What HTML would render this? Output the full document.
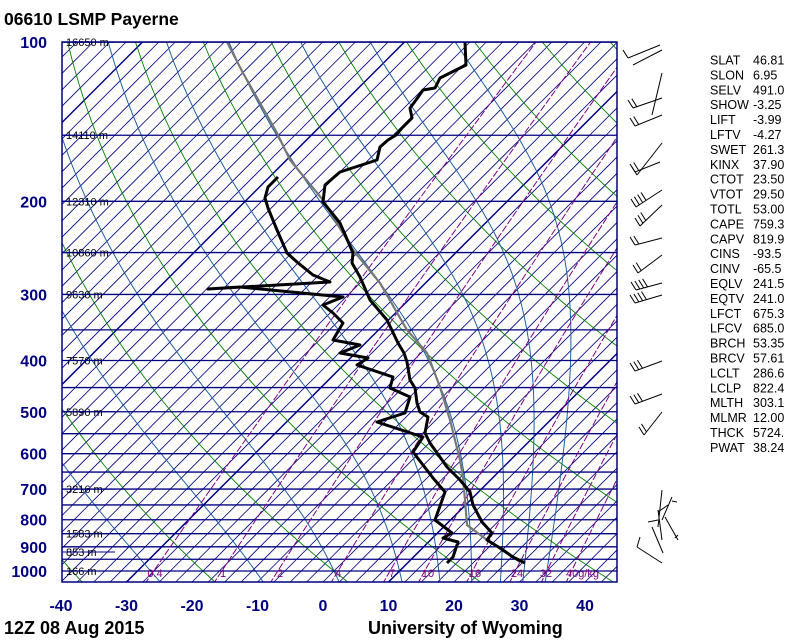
<!DOCTYPE html>
<html><head><meta charset="utf-8"><style>
html,body{margin:0;padding:0;background:#fff;}
svg{display:block;}
</style></head><body>
<svg id="s" width="800" height="640" xmlns="http://www.w3.org/2000/svg" font-family="'Liberation Sans', sans-serif">
<defs><clipPath id="c"><rect x="62" y="42" width="555" height="540"/></clipPath></defs>
<rect width="800" height="640" fill="#fff"/>
<g id="grid" clip-path="url(#c)"></g>
<g id="hl" font-size="11" fill="#000"></g>
<g id="traces" clip-path="url(#c)"></g>
<rect x="62" y="42" width="555" height="540" fill="none" stroke="#000080" stroke-width="1.5"/>
<g id="lab"></g>
<text x="4" y="25" font-size="17.5" font-weight="bold">06610 LSMP Payerne</text>
<text x="4" y="634" font-size="18" font-weight="bold">12Z 08 Aug 2015</text>
<text x="368" y="634" font-size="18" font-weight="bold">University of Wyoming</text>
<g id="barbs" stroke="#000" stroke-width="1" fill="none"></g>
<g id="stats" font-size="12.5" fill="#000"></g>
</svg>
<script>
var NS="http://www.w3.org/2000/svg";
function el(par,tag,attrs,txt){var e=document.createElementNS(NS,tag);for(var k in attrs)e.setAttribute(k,attrs[k]);if(txt!==undefined)e.textContent=txt;document.getElementById(par).appendChild(e);return e;}
function Y(p){return 571+229.7*Math.log(p/1000);}
function X(T,p){return 323+6.55*T+(582-Y(p));}
function poly(par,pts,attrs){attrs.points=pts.map(function(q){return q[0].toFixed(1)+","+q[1].toFixed(1)}).join(" ");attrs.fill="none";el(par,"polyline",attrs);}
for(var T=-200;T<=60;T+=2.5){
  var x1=323+6.55*T, y1=582, x2=x1+540, y2=42;
  var thick=(Math.abs(((T+30)%40+40)%40)<0.01);
  el("grid","line",{x1:x1,y1:y1,x2:x2,y2:y2,stroke:"#000080","stroke-width":thick?1.5:0.8});
}
for(var th=-40;th<=220;th+=20){
  var pts=[];for(var p=1060;p>=95;p-=10){var Tk=(th+273.15)*Math.pow(p/1000,0.286);pts.push([X(Tk-273.15,p),Y(p)]);}
  poly("grid",pts,{stroke:"#008000","stroke-width":0.9});
}
function es(Tc){return 6.112*Math.exp(17.67*Tc/(Tc+243.5));}
function dTdp(Tk,p){var e=es(Tk-273.15);var rs=0.622*e/(p-e);return (287*Tk+2.5e6*rs)/(p*(1005+2.5e6*2.5e6*rs*0.622/(287*Tk*Tk)));}
[-28,-12,0,10,16,21,25.5,29,32.5].forEach(function(t0){
  var pts=[],Tk=t0+273.15,p;
  var down=[];var T2=Tk;for(p=1000;p<=1060;p+=5){down.push([X(T2-273.15,p),Y(p)]);T2+=dTdp(T2,p)*5;}
  down.reverse();pts=down;
  for(p=1000;p>=95;p-=2){pts.push([X(Tk-273.15,p),Y(p)]);Tk-=dTdp(Tk,p)*2;}
  poly("grid",pts,{stroke:"#1f5f9f","stroke-width":1});
});
for(var p=100;p<=1000;p+=50){el("grid","line",{x1:62,x2:617,y1:Y(p),y2:Y(p),stroke:"#000080","stroke-width":1.3});}
var ws=[0.4,1,2,4,7,10,16,24,32,40];
ws.forEach(function(w){var pts=[];for(var p=1060;p>=100;p-=10){var e=w*p/(622+w);var l=Math.log(e/6.112);var td=243.5*l/(17.67-l);pts.push([X(td,p),Y(p)]);}
  poly("grid",pts,{stroke:"#800080","stroke-width":1,"stroke-dasharray":"7,2"});});
var ml=[["0.4",155],["1",223],["2",280],["4",338],["7",392],["10",428],["16",475],["24",517],["32",546],["40g/kg",566]];
ml.forEach(function(m){el("grid","text",{x:m[1],y:577,"font-size":11,fill:"#800080","text-anchor":m[0]=="40g/kg"?"start":"middle"},m[0]);});
[["16650 m",100],["14110 m",150],["12310 m",200],["10860 m",250],["9630 m",300],["7570 m",400],["5890 m",500],["3216 m",700],["1583 m",850],["853 m",925],["166 m",1000]].forEach(function(h){
  var y=h[1]==925?552:Y(h[1]);el("hl","text",{x:66,y:y+4},h[0]);el("hl","line",{x1:62,x2:115,y1:y,y2:y,stroke:"#000080","stroke-width":1});});
[100,200,300,400,500,600,700,800,900,1000].forEach(function(p){el("lab","text",{x:47,y:Y(p)+6,"font-size":16,"font-weight":"bold",fill:"#000080","text-anchor":"end"},p);});
for(var t=-40;t<=40;t+=10){el("lab","text",{x:323+6.55*t,y:611,"font-size":16,"font-weight":"bold",fill:"#000080","text-anchor":"middle"},t);}
var temp=[[465,42],[466,65],[440,78],[435,88],[423,90],[416,100],[410,108],[412,118],[402,128],[396,135],[388,140],[380,147],[377,160],[340,172],[325,185],[323,202],[340,223],[353,253],[352,263],[360,277],[370,300],[387,320],[398,343],[404,353],[407,362],[410,380],[415,388],[417,403],[420,412],[428,417],[425,433],[430,443],[447,467],[460,480],[470,492],[473,505],[482,522],[492,533],[487,540],[500,548],[513,557],[525,563]];
var dew=[[278,177],[268,187],[265,198],[268,208],[277,230],[287,253],[297,262],[313,275],[330,282],[208,289],[240,287],[343,297],[323,305],[333,313],[343,323],[333,340],[360,345],[340,353],[368,358],[357,365],[393,377],[390,388],[410,397],[405,413],[377,422],[423,437],[413,452],[433,478],[445,492],[435,520],[452,533],[443,538],[458,542],[453,557],[447,563]];
var parcel=[[227,42],[243,73],[277,133],[290,160],[323,200],[353,250],[380,283],[407,330],[427,353],[440,387],[450,420],[460,460],[463,477],[465,500],[467,525],[487,540],[520,562]];
poly("traces",parcel,{stroke:"#777","stroke-width":2.2});
poly("traces",temp,{stroke:"#000","stroke-width":3,"stroke-linejoin":"round"});
poly("traces",dew,{stroke:"#000","stroke-width":3,"stroke-linejoin":"round"});
function barb(bx,by,tx,ty,n){el("barbs","line",{x1:bx,y1:by,x2:tx,y2:ty});var dx=(tx-bx),dy=(ty-by),L=Math.sqrt(dx*dx+dy*dy);dx/=L;dy/=L;
  for(var i=0;i<n;i++){var px=bx+dx*i*4,py=by+dy*i*4;el("barbs","line",{x1:px,y1:py,x2:px-5,y2:py-8});}}
barb(633,65,662,50,0);barb(628,58,660,45,1);barb(652,115,662,73,0);barb(633,108,662,98,2);barb(635,126,662,115,2);
barb(637,175,662,143,1);barb(635,172,660,162,2);barb(636,207,662,190,4);barb(640,226,662,205,3);barb(635,245,662,238,2);
barb(638,273,662,255,2);barb(636,290,662,283,4);barb(635,303,662,295,4);barb(635,371,662,361,3);barb(635,404,662,394,3);barb(644,435,662,412,2);
[[662,490,658,527],[658,510,662,540],[652,527,663,553],[672,497,662,520],[665,517,678,540],[648,522,658,520],[658,512,668,505],[672,501,677,502],[637,547,662,563],[637,547,640,537],[675,538,678,535]].forEach(function(s){el("barbs","line",{x1:s[0],y1:s[1],x2:s[2],y2:s[3]});});
var st=[["SLAT","46.81"],["SLON","6.95"],["SELV","491.0"],["SHOW","-3.25"],["LIFT","-3.99"],["LFTV","-4.27"],["SWET","261.3"],["KINX","37.90"],["CTOT","23.50"],["VTOT","29.50"],["TOTL","53.00"],["CAPE","759.3"],["CAPV","819.9"],["CINS","-93.5"],["CINV","-65.5"],["EQLV","241.5"],["EQTV","241.0"],["LFCT","675.3"],["LFCV","685.0"],["BRCH","53.35"],["BRCV","57.61"],["LCLT","286.6"],["LCLP","822.4"],["MLTH","303.1"],["MLMR","12.00"],["THCK","5724."],["PWAT","38.24"]];
st.forEach(function(r,i){var y=60+14.9*i+4.5;el("stats","text",{x:710,y:y},r[0]);el("stats","text",{x:753,y:y},r[1]);});
</script>
</body></html>
